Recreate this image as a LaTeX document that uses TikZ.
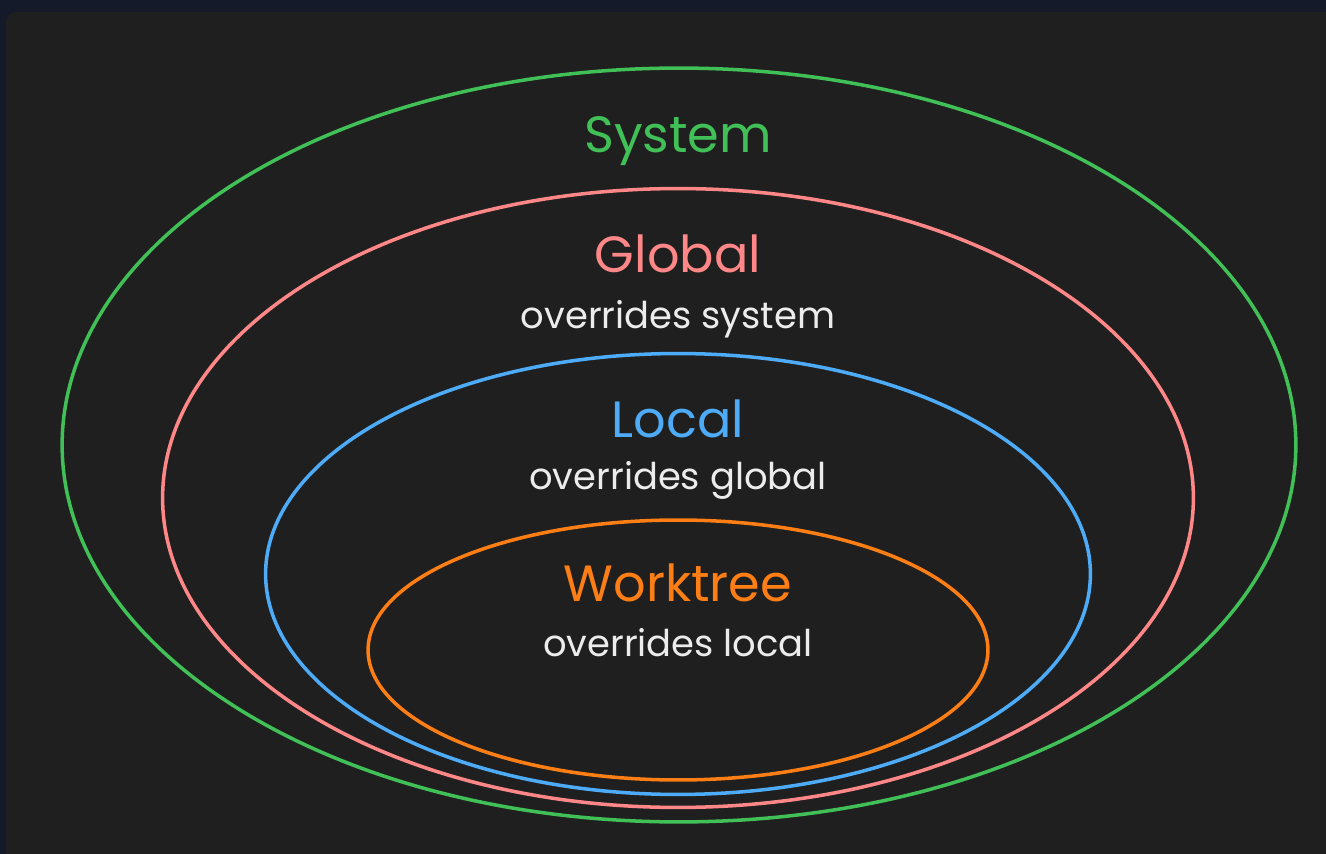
\documentclass[tikz,border=0pt]{standalone}
\usepackage{fontspec}
\setmainfont{Poppins}
\usetikzlibrary{shapes.geometric, positioning}
\definecolor{framebg}{HTML}{151A2A}
\definecolor{panelbg}{HTML}{1F1F1F}
\definecolor{sysgreen}{HTML}{40C057}
\definecolor{globpink}{HTML}{FF8787}
\definecolor{locblue}{HTML}{4DABF7}
\definecolor{wtorange}{HTML}{FD7E14}
\definecolor{notewhite}{HTML}{ECECEC}
\tikzset{>=latex}

\begin{document}
\begin{tikzpicture}[x=0.02cm, y=-0.02cm,
ring/.style={ellipse, draw, line width=2pt, inner sep=0pt},
level/.style={anchor=base, font=\fontsize{29}{34}\selectfont},
note/.style={anchor=base, text=notewhite, font=\fontsize{21}{25}\selectfont}]
\useasboundingbox (0,0) rectangle (1326,854);
\clip (0,0) rectangle (1326,854);
\fill[framebg] (0,0) rectangle (1326,854);
\fill[panelbg, rounded corners=0.2cm] (6,12) rectangle (1360,890);

\node[ring, draw=sysgreen, minimum width=24.68cm, minimum height=15.08cm] (sys) at (679,445) {};
\node[ring, draw=globpink, minimum width=20.62cm, minimum height=12.38cm] (glb) at (678,498) {};
\node[ring, draw=locblue, minimum width=16.5cm, minimum height=8.82cm] (loc) at (678,574) {};
\node[ring, draw=wtorange, minimum width=12.4cm, minimum height=5.2cm] (wt) at (678,650) {};

\node[level, text=sysgreen] (systitle) at (678,153) {System};
\node[level, text=globpink] (glbtitle) at (678,273) {Global};
\node[note] (glbnote) at (678,329) {overrides system};
\node[level, text=locblue] (loctitle) at (678,438) {Local};
\node[note] (locnote) at (678,490) {overrides global};
\node[level, text=wtorange] (wttitle) at (678,602) {Worktree};
\node[note] (wtnote) at (678,657) {overrides local};
\end{tikzpicture}
\end{document}
